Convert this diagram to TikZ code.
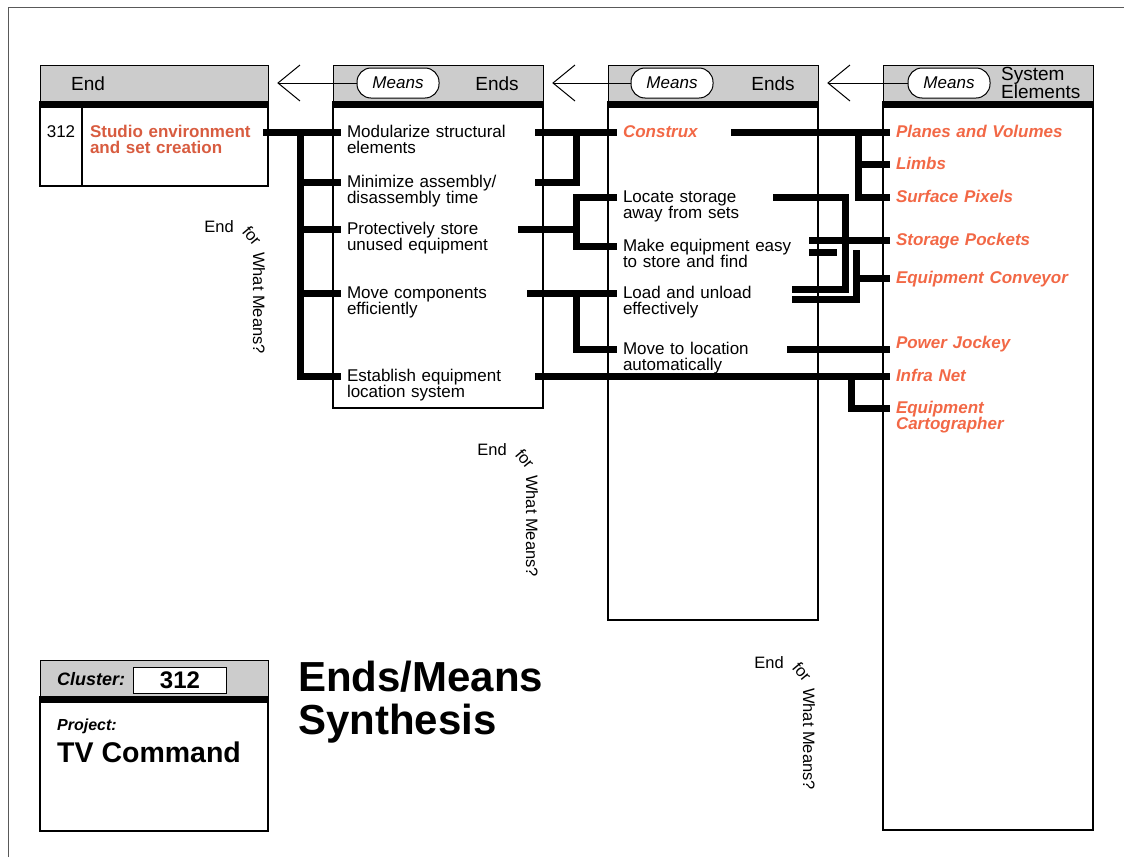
\documentclass[tikz,border=0pt]{standalone}
\usepackage{fontspec}
\setmainfont{Liberation Sans}
\usepackage{tikz}
\usetikzlibrary{arrows.meta}
\definecolor{headgray}{RGB}{204,204,204}
\definecolor{endred}{RGB}{216,92,64}
\definecolor{meanorange}{RGB}{242,104,70}

\begin{document}
\fontsize{19}{19}\selectfont
\begin{tikzpicture}[x=1pt,y=-1pt,
    box/.style={line width=1.2pt},
    head/.style={draw, line width=1.2pt, fill=headgray, anchor=north west,
        inner sep=0pt, minimum height=37pt},
    hdtext/.style={inner sep=0pt, font=\fontsize{19}{16}\selectfont},
    pill/.style={draw, line width=1pt, fill=white, rounded corners=14pt,
        minimum width=82pt, minimum height=30pt, inner sep=0pt,
        font=\fontsize{17}{17}\selectfont\itshape},
    meansarrow/.style={line width=1pt,
        -{Straight Barb[length=22pt,width=36pt,line width=1pt]}},
    item/.style={anchor=mid west, inner sep=0pt, outer xsep=6pt, align=left,
        text width=#1, font=\fontsize{17}{16.5}\selectfont},
    mean/.style={item=#1, text=meanorange,
        font=\fontsize{17}{16.5}\selectfont\bfseries\itshape},
    bar/.style={line width=7pt},
    note/.style={inner sep=0pt, font=\fontsize{16.5}{16.5}\selectfont}]
    \useasboundingbox (0,0) rectangle (1124,857);
    \draw[line width=1pt, gray!70!black] (8,857) -- (8,7) -- (1124,7);

    \foreach \bx/\bl/\br/\bb in {1/40/268/186, 2/333/543/408, 3/608/818/620, 4/883/1093/830} {
        \node[head, minimum width=\br-\bl] (h\bx) at (\bl,65) {};
        \draw[box] (\bl,102) rectangle (\br,\bb);
        \draw[line width=6.5pt] (\bl,105) -- (\br,105);
    }
    \draw[box] (82,108) -- (82,186);

    \node[hdtext] (endhd) at (88,84) {End};
    \node[hdtext] (endshd) at (497,84) {Ends};
    \node[hdtext] (endshdb) at (773,84) {Ends};
    \node[hdtext, align=left, anchor=west] (syshd) at (1001,83) {System\\Elements};

    \node[pill] (means2) at (398,83) {Means};
    \node[pill] (means3) at (672,83) {Means};
    \node[pill] (means4) at (949,83) {Means};
    \draw[meansarrow] (means2.west) -- ([xshift=8pt]h1.east |- means2.west);
    \draw[meansarrow] (means3.west) -- ([xshift=8pt]h2.east |- means3.west);
    \draw[meansarrow] (means4.west) -- ([xshift=8pt]h3.east |- means4.west);

    \node[anchor=mid, inner sep=0pt, font=\fontsize{17}{16.5}\selectfont] (rowno) at (61,132) {312};
    \node[item=167, text=endred, font=\fontsize{17}{16.5}\selectfont\bfseries] (studio) at (84,132)
        {Studio environment\\and set creation};

    \node[item=182] (modul) at (341,132) {Modularize structural\\elements};
    \node[item=182] (minim) at (341,182) {Minimize assembly/\\disassembly time};
    \node[item=165] (protect) at (341,229) {Protectively store\\unused equipment};
    \node[item=174] (movecomp) at (341,293) {Move components\\efficiently};
    \node[item=182] (establish) at (341,376) {Establish equipment\\location system};

    \node[mean=102] (construx) at (617,132) {Construx};
    \node[item=144] (locate) at (617,197) {Locate storage\\away from sets};
    \node[item=180] (makeeasy) at (617,246) {Make equipment easy\\to store and find};
    \node[item=163] (loadunload) at (617,293) {Load and unload\\effectively};
    \node[item=158] (moveto) at (617,349) {Move to location\\automatically};

    \node[mean=190] (planes) at (890,132) {Planes and Volumes};
    \node[mean=190] (limbs) at (890,164) {Limbs};
    \node[mean=190] (pixels) at (890,197) {Surface Pixels};
    \node[mean=190] (pockets) at (890,240) {Storage Pockets};
    \node[mean=190] (conveyor) at (890,278) {Equipment Conveyor};
    \node[mean=190] (jockey) at (890,343) {Power Jockey};
    \node[mean=190] (infranet) at (890,376) {Infra Net};
    \node[mean=190] (cartographer) at (890,408) {Equipment\\Cartographer};

    \coordinate (spineA) at (300,0);
    \coordinate (spineB) at (576,0);
    \coordinate (spineC) at (858,0);
    \coordinate (spineD) at (845,0);
    \coordinate (spineE) at (856,250);
    \coordinate (spineF) at (851,0);
    \coordinate (stubend) at (837,252);

    \draw[bar] (studio.mid east) -- (modul.mid west);
    \draw[bar] (modul.mid west -| spineA) |- (establish.mid west);
    \foreach \n in {minim,protect,movecomp}
        \draw[bar] (\n.mid west -| spineA) -- (\n.mid west);

    \draw[bar] (modul.mid east) -- (construx.mid west);
    \draw[bar] (minim.mid east) -| (construx.mid west -| spineB);
    \draw[bar] (locate.mid west) -| (makeeasy.mid west -| spineB) -- (makeeasy.mid west);
    \draw[bar] (protect.mid east) -- (protect.mid east -| spineB);
    \draw[bar] (movecomp.mid east) -- (loadunload.mid west);
    \draw[bar] (loadunload.mid west -| spineB) |- (moveto.mid west);
    \draw[bar] (establish.mid east) -- (establish.mid east -| infranet.mid west);
    \draw[bar] (infranet.mid west -| spineF) |- (cartographer.mid west);

    \draw[bar] (construx.mid east) -- (planes.mid west);
    \draw[bar] (planes.mid west -| spineC) |- (pixels.mid west);
    \draw[bar] (limbs.mid west -| spineC) -- (limbs.mid west);
    \draw[bar] (locate.mid east) -| ([yshift=4pt]loadunload.mid east -| spineD)
        -- ([yshift=4pt]loadunload.mid east);
    \draw[bar] ([yshift=6pt]makeeasy.mid east) -- ([yshift=6pt]makeeasy.mid east -| pockets.mid west);
    \draw[bar] ([yshift=-6pt]makeeasy.mid east) -- (stubend);
    \draw[bar] ([yshift=-6pt]loadunload.mid east) -| (spineE);
    \draw[bar] (conveyor.mid west -| spineE) -- (conveyor.mid west);
    \draw[bar] (moveto.mid east) -- (moveto.mid east -| jockey.mid west);

    \foreach \qx/\qy [count=\i] in {219/227, 492/450, 769/663} {
        \node[note] (q\i) at (\qx,\qy) {End};
        \node[note, rotate=-50] (qf\i) at ([shift={(33,9)}]q\i) {for};
        \node[note, rotate=-90] (qm\i) at ([shift={(40,76)}]q\i) {What Means?};
    }

    \node[head, minimum width=228pt] (hc) at (40,660) {};
    \draw[box] (40,697) rectangle (268,831);
    \draw[line width=6.5pt] (40,700) -- (268,700);
    \node[anchor=base west, inner sep=0pt, font=\fontsize{18}{18}\selectfont\bfseries\itshape]
        (clusterlbl) at (57,685) {Cluster:};
    \node[draw, line width=1pt, fill=white, minimum width=93pt, minimum height=26pt, inner sep=0pt,
        font=\fontsize{24}{24}\selectfont\bfseries] (clusterno) at (180,680) {312};
    \node[anchor=base west, inner sep=0pt, font=\fontsize{16}{16}\selectfont\bfseries\itshape]
        (projlbl) at (57,730) {Project:};
    \node[anchor=base west, inner sep=0pt, font=\fontsize{28.5}{28.5}\selectfont\bfseries]
        (projname) at (57,762) {TV Command};
    \node[anchor=base west, inner sep=0pt, align=left, text width=300pt,
        font=\fontsize{42}{43}\selectfont\bfseries] (title) at (298,691) {Ends/Means\\Synthesis};
\end{tikzpicture}
\end{document}
